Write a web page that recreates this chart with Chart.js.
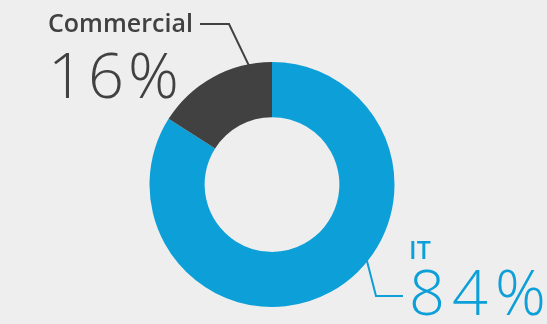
<!DOCTYPE html>
<html>
<head>
<meta charset="utf-8">
<script src="https://cdn.jsdelivr.net/npm/chart.js@4"></script>
<style>
  html, body { margin: 0; padding: 0; background: #eeeeee; }
  #wrap { width: 547px; height: 324px; position: relative; }
</style>
</head>
<body>
<div id="wrap"><canvas id="shareChart"></canvas></div>
<script>
const categories = ['IT', 'Commercial'];
const shares = [84, 16];
const sliceColors = ['#0d9fd8', '#414141'];

// where each callout sits: angle inside its slice (deg from slice start), text box, elbow
const callouts = [
  { idx: 0, angleFromStart: 127, radiusFrac: 0.955, elbow: [376, 296], lineEnd: [403, 296], textX: 409, nameY: 259, valueY: 315, spacing: 7 },
  { idx: 1, angleFromStart: 48, radiusFrac: 0.905, elbow: [229, 24], lineEnd: [200, 24], textX: 48, nameY: 32, valueY: 98, spacing: 4 }
];

const calloutPlugin = {
  id: 'callouts',
  afterDraw(chart) {
    const ctx = chart.ctx;
    const arcs = chart.getDatasetMeta(0).data;
    callouts.forEach(c => {
      const arc = arcs[c.idx];
      const color = sliceColors[c.idx];
      const a = arc.startAngle + c.angleFromStart * Math.PI / 180;
      const r = arc.outerRadius * c.radiusFrac;
      const px = arc.x + Math.cos(a) * r;
      const py = arc.y + Math.sin(a) * r;

      ctx.save();
      ctx.strokeStyle = color;
      ctx.lineWidth = 2;
      ctx.beginPath();
      ctx.moveTo(px, py);
      ctx.lineTo(c.elbow[0], c.elbow[1]);
      ctx.lineTo(c.lineEnd[0], c.lineEnd[1]);
      ctx.stroke();

      ctx.fillStyle = color;
      ctx.textAlign = 'left';
      ctx.textBaseline = 'alphabetic';
      ctx.font = '600 25px "Open Sans"';
      ctx.fillText(categories[c.idx], c.textX, c.nameY);
      ctx.font = '300 63px "Open Sans"';
      ctx.letterSpacing = c.spacing + 'px';
      ctx.fillText(shares[c.idx] + '%', c.textX, c.valueY);
      ctx.restore();
    });
  }
};

new Chart(document.getElementById('shareChart'), {
  type: 'doughnut',
  data: {
    labels: categories,
    datasets: [{
      data: shares,
      backgroundColor: sliceColors,
      borderWidth: 0,
      hoverOffset: 0
    }]
  },
  options: {
    responsive: true,
    maintainAspectRatio: false,
    animation: false,
    cutout: '55%',
    layout: { padding: { top: 62, bottom: 17, left: 0, right: 3 } },
    plugins: {
      legend: { display: false },
      tooltip: { enabled: false }
    }
  },
  plugins: [calloutPlugin]
});
</script>
</body>
</html>
